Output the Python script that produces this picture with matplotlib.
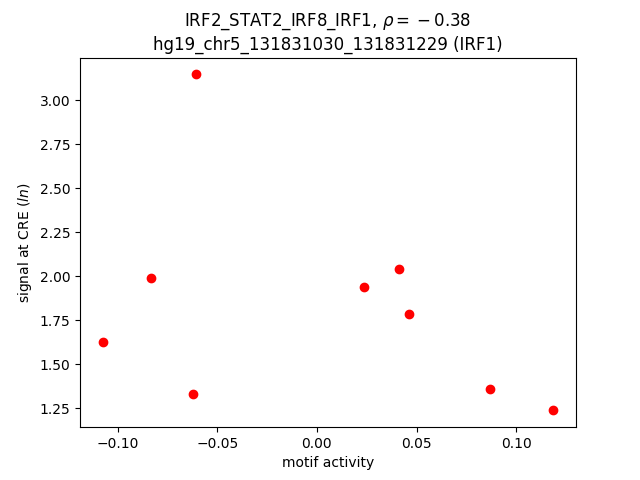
import matplotlib
matplotlib.use("Agg")
import matplotlib.pyplot as plt

# motif activity vs signal at CRE
motif_activity = [-0.0608, -0.0834, -0.1075, -0.0623, 0.0236, 0.0412, 0.0462, 0.0869, 0.1186]
signal = [3.148, 1.994, 1.625, 1.330, 1.9375, 2.040, 1.784, 1.358, 1.239]

plt.figure(figsize=(6.4, 4.8), dpi=100)
plt.scatter(motif_activity, signal, color="red")
plt.title("IRF2_STAT2_IRF8_IRF1, $\\rho = {}-0.38$\nhg19_chr5_131831030_131831229 (IRF1)")
plt.xlabel("motif activity")
plt.ylabel("signal at CRE ($ln$)")
plt.savefig("out.png")
